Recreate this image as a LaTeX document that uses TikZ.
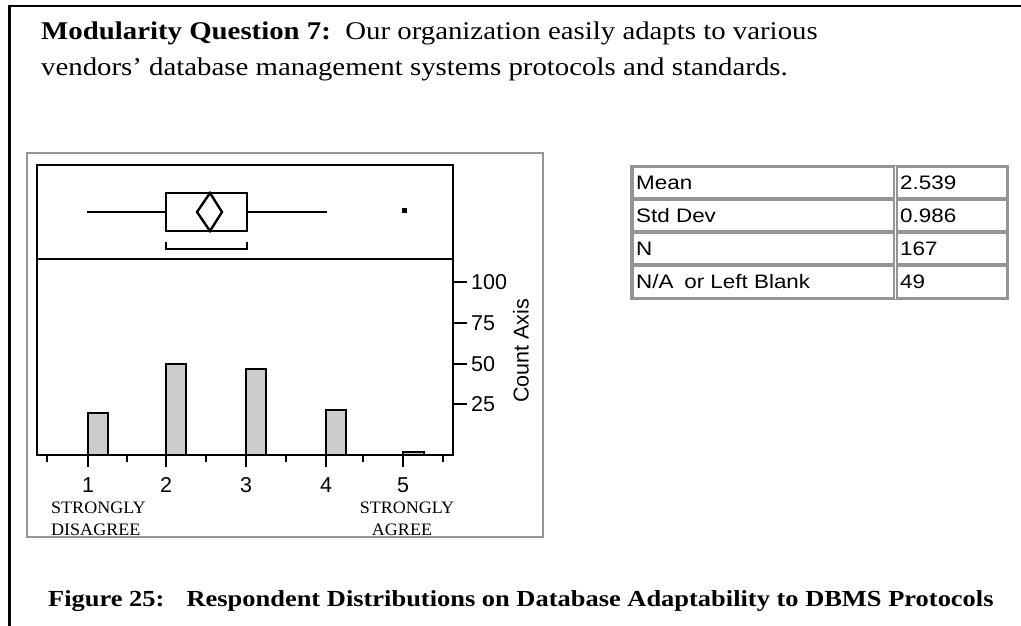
\documentclass[tikz,border=0pt]{standalone}
\usepackage{graphicx}
\usepackage{fontspec}
\setmainfont{Liberation Serif}
\setsansfont{Liberation Sans}
\tikzset{
  frameline/.style={line width=2.6pt, black},
  chartframe/.style={line width=1.8pt, black!42},
  plotline/.style={line width=2.4pt, black},
  barbox/.style={line width=2.2pt, black, fill=black!20},
  tickmark/.style={line width=2.4pt, black},
  axislabel/.style={inner sep=0pt, font=\fontsize{21.5}{24}\selectfont\sffamily},
  scalelabel/.style={inner sep=0pt, font=\fontsize{17.5}{20}\selectfont},
  cellbox/.style={line width=1.1pt, black!42},
  celltext/.style={inner sep=0pt, anchor=west, font=\fontsize{19.5}{22}\selectfont\sffamily},
}
\newcommand{\tstretch}[1]{\scalebox{1.13}[1]{#1}}
\newcommand{\cstretch}[1]{\scalebox{1.15}[1]{#1}}
\begin{document}
\begin{tikzpicture}[x=1pt, y=-1pt]
\useasboundingbox (0,0) rectangle (1021,626);
% outer frame (top and left only visible)
\draw[frameline] (9.5,626) -- (9.5,6) -- (1021,6);
% title
\node[anchor=base west, inner sep=0pt] (title1) at (41,40)
  {\fontsize{25.5}{30}\selectfont\tstretch{\textbf{Modularity Question 7:}\hspace{0.5em}Our organization easily adapts to various}};
\node[anchor=base west, inner sep=0pt] (title2) at (41,76)
  {\fontsize{25.5}{30}\selectfont\tstretch{vendors' database management systems protocols and standards.}};
% chart frame
\draw[chartframe] (27,153) rectangle (543,537);
% plot frame
\draw[plotline] (37,455) -- (37,165) -- (453,165) -- (453,455) -- cycle;
\draw[plotline] (37,259) -- (453,259);
% box plot
\draw[plotline] (87,212) -- (166,212);
\draw[plotline] (247,212) -- (327,212);
\draw[plotline] (166,193) rectangle (247,231);
\draw[plotline] (197,212) -- (210,193) -- (222,212) -- (210,231) -- cycle;
\draw[plotline] (166,242) -- (166,249) -- (247,249) -- (247,242);
\fill[black] (401.5,207.5) rectangle (406.5,212.5);
% bars
\draw[barbox] (88,455) rectangle (108,413);
\draw[barbox] (166,455) rectangle (186,364);
\draw[barbox] (246,455) rectangle (266,369);
\draw[barbox] (326,455) rectangle (346,410);
\draw[barbox] (403,455) rectangle (424,452);
% x axis ticks
\foreach \x in {88,166,246,326,403} \draw[tickmark] (\x,455) -- (\x,467);
\foreach \x in {47,127,206,286,363,443} \draw[tickmark] (\x,455) -- (\x,462);
\node[axislabel, anchor=base] (x1) at (88,492) {1};
\node[axislabel, anchor=base] (x2) at (166,492) {2};
\node[axislabel, anchor=base] (x3) at (246,492) {3};
\node[axislabel, anchor=base] (x4) at (326,492) {4};
\node[axislabel, anchor=base] (x5) at (403,492) {5};
% y axis ticks
\foreach \y in {282,323,364,404} \draw[tickmark] (453,\y) -- (467,\y);
\node[axislabel, anchor=west] (y100) at (471,282) {100};
\node[axislabel, anchor=west] (y75) at (471,323) {75};
\node[axislabel, anchor=west] (y50) at (471,364) {50};
\node[axislabel, anchor=west] (y25) at (471,404) {25};
\node[axislabel, rotate=90] (ytitle) at (521,351) {Count Axis};
% scale end labels
\node[scalelabel, anchor=base west] (sd1) at (51,513) {\scalebox{1.03}[1]{STRONGLY}};
\node[scalelabel, anchor=base west] (sd2) at (51,535) {\scalebox{1.03}[1]{DISAGREE}};
\node[scalelabel, anchor=base] (sa1) at (407,513) {\scalebox{1.03}[1]{STRONGLY}};
\node[scalelabel, anchor=base] (sa2) at (402,535) {\scalebox{1.03}[1]{AGREE}};
% table
\draw[cellbox] (631,165.5) rectangle (1008.5,299.5);
\foreach \t/\b in {167/198, 200/231, 233/264, 266/298} {
  \draw[cellbox] (633,\t) rectangle (894,\b);
  \draw[cellbox] (897,\t) rectangle (1007,\b);
}
\node[celltext] (m1) at (636,182.5) {\scalebox{1.15}[1]{Mean}};
\node[celltext] (m2) at (900,182.5) {\scalebox{1.15}[1]{2.539}};
\node[celltext] (s1) at (636,215.5) {\scalebox{1.15}[1]{Std Dev}};
\node[celltext] (s2) at (900,215.5) {\scalebox{1.15}[1]{0.986}};
\node[celltext] (n1) at (636,248.5) {\scalebox{1.15}[1]{N}};
\node[celltext] (n2) at (900,248.5) {\scalebox{1.15}[1]{167}};
\node[celltext] (b1) at (636,282) {\scalebox{1.15}[1]{N/A\hspace{0.2em} or Left Blank}};
\node[celltext] (b2) at (900,282) {\scalebox{1.15}[1]{49}};
% caption
\node[anchor=base west, inner sep=0pt] (caption) at (48,606)
  {\fontsize{23}{27}\selectfont\bfseries\cstretch{Figure 25:\hspace{0.5em} Respondent Distributions on Database Adaptability to DBMS Protocols}};
\end{tikzpicture}
\end{document}
